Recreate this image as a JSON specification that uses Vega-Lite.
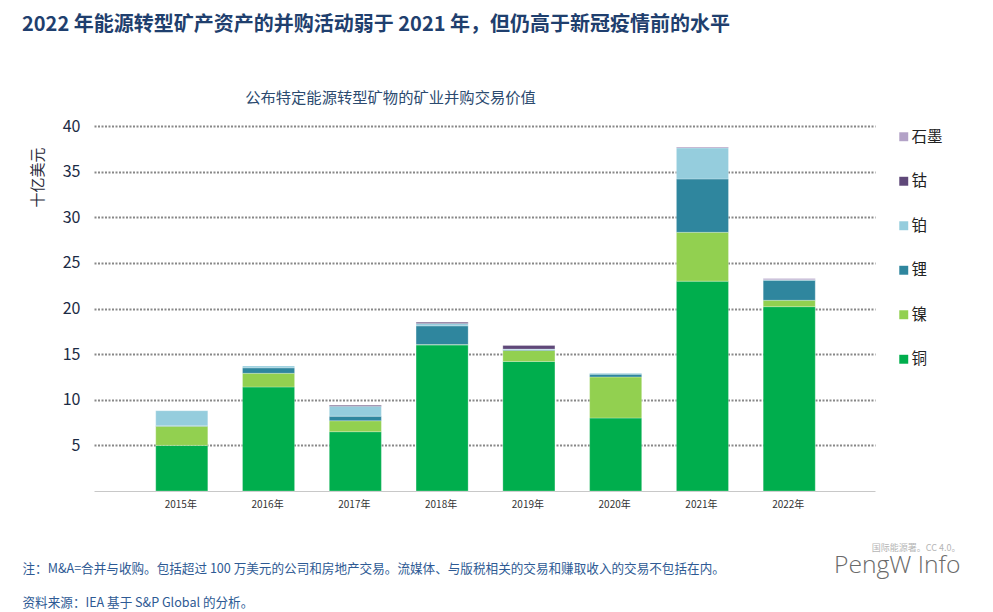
{"$schema":"https://vega.github.io/schema/vega-lite/v6.json","width":781,"height":365,"autosize":"none","padding":{"left":94,"top":126,"right":118,"bottom":121},"background":"white","config":{"view":{"stroke":null}},
"title":{"text":"2022 年能源转型矿产资产的并购活动弱于 2021 年，但仍高于新冠疫情前的水平","anchor":"start","frame":"group","dx":-72,"offset":55,"font":"Noto Sans CJK SC","fontSize":20,"fontWeight":"bold","color":"#1f3f6e"},
"data":{"values":[
{"year":"2015年","mineral":"铜","rank":1,"value":5.0},{"year":"2015年","mineral":"镍","rank":2,"value":2.1},{"year":"2015年","mineral":"锂","rank":3,"value":0.05},{"year":"2015年","mineral":"铂","rank":4,"value":1.65},
{"year":"2016年","mineral":"铜","rank":1,"value":11.4},{"year":"2016年","mineral":"镍","rank":2,"value":1.5},{"year":"2016年","mineral":"锂","rank":3,"value":0.6},{"year":"2016年","mineral":"铂","rank":4,"value":0.2},
{"year":"2017年","mineral":"铜","rank":1,"value":6.5},{"year":"2017年","mineral":"镍","rank":2,"value":1.2},{"year":"2017年","mineral":"锂","rank":3,"value":0.5},{"year":"2017年","mineral":"铂","rank":4,"value":1.1},{"year":"2017年","mineral":"钴","rank":5,"value":0.1},
{"year":"2018年","mineral":"铜","rank":1,"value":16.0},{"year":"2018年","mineral":"镍","rank":2,"value":0.05},{"year":"2018年","mineral":"锂","rank":3,"value":2.05},{"year":"2018年","mineral":"铂","rank":4,"value":0.25},{"year":"2018年","mineral":"钴","rank":5,"value":0.15},
{"year":"2019年","mineral":"铜","rank":1,"value":14.2},{"year":"2019年","mineral":"镍","rank":2,"value":1.2},{"year":"2019年","mineral":"锂","rank":3,"value":0.1},{"year":"2019年","mineral":"铂","rank":4,"value":0.05},{"year":"2019年","mineral":"钴","rank":5,"value":0.4},
{"year":"2020年","mineral":"铜","rank":1,"value":8.0},{"year":"2020年","mineral":"镍","rank":2,"value":4.5},{"year":"2020年","mineral":"锂","rank":3,"value":0.3},{"year":"2020年","mineral":"铂","rank":4,"value":0.1},
{"year":"2021年","mineral":"铜","rank":1,"value":23.0},{"year":"2021年","mineral":"镍","rank":2,"value":5.35},{"year":"2021年","mineral":"锂","rank":3,"value":5.85},{"year":"2021年","mineral":"铂","rank":4,"value":3.4},{"year":"2021年","mineral":"石墨","rank":6,"value":0.1},
{"year":"2022年","mineral":"铜","rank":1,"value":20.2},{"year":"2022年","mineral":"镍","rank":2,"value":0.7},{"year":"2022年","mineral":"锂","rank":3,"value":2.2},{"year":"2022年","mineral":"铂","rank":4,"value":0.05},{"year":"2022年","mineral":"石墨","rank":6,"value":0.15}
]},
"resolve":{"axis":{"x":"independent","y":"independent"}},
"layer":[
{"mark":{"type":"bar","stroke":"#ffffff","strokeOpacity":0.5,"strokeWidth":0.5,"xOffset":1},
"encoding":{
"x":{"field":"year","type":"nominal","sort":null,"scale":{"paddingInner":0.4,"paddingOuter":0.7},"axis":{"orient":"bottom","title":null,"labelAngle":0,"labelFont":"Noto Sans CJK SC","labelFontSize":10,"labelColor":"#333333","labelPadding":8,"ticks":false,"domainColor":"#c8c8c8","domainWidth":1,"grid":false}},
"y":{"field":"value","type":"quantitative","stack":"zero","scale":{"domain":[0,40],"nice":false},"axis":{"orient":"left","values":[5,10,15,20,25,30,35,40],"grid":true,"gridColor":"#888888","gridWidth":2,"gridDash":[2,1.5],"domain":false,"ticks":false,"labelFont":"Noto Sans CJK SC","labelFontSize":16,"labelColor":"#1c2b45","labelPadding":14,"title":"十亿美元","titleFont":"Noto Sans CJK SC","titleFontSize":15,"titleFontWeight":"normal","titleColor":"#2a2a3a","titleX":-57,"titleY":51,"titleAngle":-90,"titleAlign":"center","titleBaseline":"middle"}},
"color":{"field":"mineral","type":"nominal","scale":{"domain":["石墨","钴","铂","锂","镍","铜"],"range":["#b3a2c7","#5f4879","#95cddd","#2f869e","#92d050","#00ae4d"]},"legend":{"orient":"none","legendX":802,"legendY":3,"title":null,"symbolType":"square","symbolSize":80,"symbolStrokeWidth":0,"labelFont":"Noto Sans CJK SC","labelFontSize":15.5,"labelColor":"#222222","labelOffset":0,"rowPadding":27.5,"labelLimit":80}},
"order":{"field":"rank","type":"quantitative"}}},
{"mark":{"type":"point","opacity":0},
"encoding":{
"x":{"field":"year","type":"nominal","sort":null,"axis":{"orient":"top","title":"公布特定能源转型矿物的矿业并购交易价值","labels":false,"ticks":false,"domain":false,"grid":false,"titleFont":"Noto Sans CJK SC","titleFontSize":15.3,"titleFontWeight":"normal","titleColor":"#2b4a6f","titleX":296,"titleY":-29,"titleAlign":"center","titleBaseline":"middle"}},
"y":{"datum":0,"axis":{"orient":"right","title":"PengW Info","labels":false,"ticks":false,"domain":false,"grid":false,"titleFont":"Open Sans","titleFontSize":24.7,"titleFontWeight":"300","titleColor":"#6a6a6a","titleAngle":0,"titleX":85,"titleY":439,"titleAlign":"right","titleBaseline":"middle"}}}},
{"mark":{"type":"point","opacity":0},
"encoding":{
"x":{"field":"year","type":"nominal","sort":null,"axis":{"orient":"bottom","title":["注：M&A=合并与收购。包括超过 100 万美元的公司和房地产交易。流媒体、与版税相关的交易和赚取收入的交易不包括在内。","资料来源：IEA 基于 S&P Global 的分析。"],"labels":false,"ticks":false,"domain":false,"grid":false,"titleFont":"Noto Sans CJK SC","titleFontSize":12.6,"titleFontWeight":"normal","titleColor":"#2e5a94","titleX":-72,"titleY":77,"titleAlign":"left","titleBaseline":"middle","titleLineHeight":34}},
"y":{"datum":0,"axis":{"orient":"right","title":"国际能源署。CC 4.0。","labels":false,"ticks":false,"domain":false,"grid":false,"titleFont":"Noto Sans CJK SC","titleFontSize":9,"titleFontWeight":"normal","titleColor":"#b5b5b5","titleAngle":0,"titleX":85,"titleY":421,"titleAlign":"right","titleBaseline":"middle"}}}}
]}
